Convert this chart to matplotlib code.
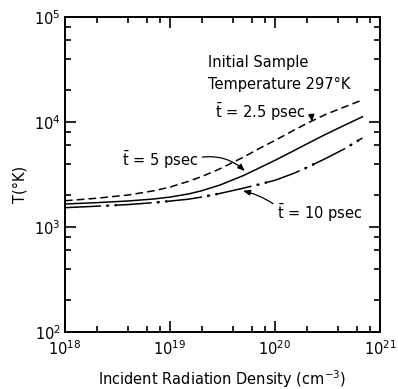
import matplotlib.pyplot as plt
import matplotlib.ticker as mticker
import numpy as np

plt.rcParams.update(
    {
        "font.family": "DejaVu Sans",
        "mathtext.fontset": "dejavusans",
        "font.size": 10,
        "lines.scale_dashes": False,
    }
)

# incident radiation density (cm^-3)
density = [1e18, 2e18, 4e18, 7e18, 1e19, 1.5e19, 2e19, 3e19, 5e19, 7e19,
           1e20, 1.5e20, 2e20, 3e20, 4.5e20, 6.8e20]
# temperature (K) for each mean pulse time
temp_2p5 = [1778, 1879, 2018, 2213, 2399, 2723, 3020, 3589, 4624, 5559,
            6683, 8318, 9661, 11749, 13804, 16218]
temp_5 = [1656, 1706, 1770, 1849, 1928, 2065, 2213, 2512, 3090, 3631,
          4315, 5309, 6166, 7586, 9226, 11220]
temp_10 = [1528, 1578, 1637, 1706, 1766, 1841, 1928, 2089, 2344, 2541,
           2786, 3236, 3673, 4467, 5495, 7047]

fig = plt.figure(figsize=(3.98, 3.89), dpi=100)
ax = fig.add_axes([0.1633, 0.1465, 0.7915, 0.8098])

ax.plot(density, temp_2p5, color="k", lw=1.1, ls=(0, (5.5, 3)))
ax.plot(density, temp_5, color="k", lw=1.1)
# dash-dot: the dot drawn with a round cap so it looks like a blob
ax.plot(density, temp_10, color="k", lw=1.1, ls=(0, (26, 4.5, 1.5, 4.5)))
ax.plot(density, temp_10, color="k", lw=2.0, ls=(0, (0.01, 30.5, 0.01, 6)),
        solid_capstyle="round", dash_capstyle="round")

ax.set_xscale("log")
ax.set_yscale("log")
ax.set_xlim(1e18, 1e21)
ax.set_ylim(1e2, 1e5)

for axis in (ax.xaxis, ax.yaxis):
    axis.set_major_locator(mticker.LogLocator(base=10, numticks=10))
    axis.set_minor_locator(mticker.LogLocator(base=10, subs=(2, 4, 6, 8), numticks=10))
    axis.set_minor_formatter(mticker.NullFormatter())

ax.tick_params(which="both", direction="in", top=True, right=True, width=1.2)
ax.tick_params(which="major", length=8, labelsize=10.5)
ax.tick_params(which="minor", length=4.5)
ax.tick_params(axis="y", pad=3)
ax.tick_params(axis="x", pad=5)
for s in ax.spines.values():
    s.set_linewidth(1.4)

ax.set_xlabel("Incident Radiation Density (cm$^{-3}$)", fontsize=10.5, labelpad=8)
ax.set_ylabel("T(°K)", fontsize=10.5)
ax.yaxis.set_label_coords(-0.118, 0.467)

ax.text(0.454, 0.854, "Initial Sample", transform=ax.transAxes, va="center", fontsize=10.5)
ax.text(0.454, 0.787, "Temperature 297°K", transform=ax.transAxes, va="center", fontsize=10.5)

arrow = dict(arrowstyle="-|>,head_length=0.4,head_width=0.16", color="k", lw=0.9,
             shrinkA=1, shrinkB=0)
ax.annotate(r"$\bar{\mathrm{t}}$ = 2.5 psec", xy=(0.784, 0.667), xytext=(0.476, 0.698),
            xycoords="axes fraction", textcoords="axes fraction", va="center",
            fontsize=10.5,
            arrowprops=dict(arrow, connectionstyle="arc3,rad=-0.4",
                            relpos=(1.0, 0.4)))
ax.annotate(r"$\bar{\mathrm{t}}$ = 5 psec", xy=(0.571, 0.511), xytext=(0.181, 0.546),
            xycoords="axes fraction", textcoords="axes fraction", va="center",
            fontsize=10.5,
            arrowprops=dict(arrow, connectionstyle="arc3,rad=-0.25",
                            relpos=(1.0, 0.6)))
ax.annotate(r"$\bar{\mathrm{t}}$ = 10 psec", xy=(0.565, 0.448), xytext=(0.673, 0.378),
            xycoords="axes fraction", textcoords="axes fraction", va="center",
            fontsize=10.5,
            arrowprops=dict(arrow, connectionstyle="arc3,rad=0.1",
                            relpos=(0.0, 0.8)))

fig.savefig("out.png", dpi=100)
